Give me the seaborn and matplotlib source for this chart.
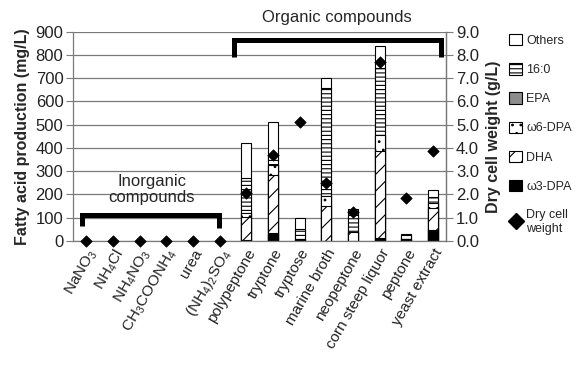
import numpy as np
import matplotlib
matplotlib.use("Agg")
import matplotlib.pyplot as plt
import seaborn as sns
from matplotlib.patches import Patch
from matplotlib.lines import Line2D

sns.set_style("white")
plt.rcParams["font.family"] = ["Liberation Sans", "DejaVu Sans"]
plt.rcParams["mathtext.default"] = "regular"
plt.rcParams["hatch.linewidth"] = 0.8

categories = [r"NaNO$_3$", r"NH$_4$Cl", r"NH$_4$NO$_3$", r"CH$_3$COONH$_4$", "urea",
              r"(NH$_4$)$_2$SO$_4$", "polypeptone", "tryptone", "tryptose",
              "marine broth", "neopeptone", "corn steep liquor", "peptone",
              "yeast extract"]

nan = np.nan
# fatty acid composition (mg/L); inorganic nitrogen sources gave no growth
w3_dpa = [nan, nan, nan, nan, nan, nan, 3, 35, 0, 0, 0, 12, 2, 45]
dha    = [nan, nan, nan, nan, nan, nan, 101, 249, 5, 150, 40, 373, 5, 95]
w6_dpa = [nan, nan, nan, nan, nan, nan, 16, 43, 2, 42, 0, 70, 0, 22]
epa    = [nan, nan, nan, nan, nan, nan, 0, 0, 0, 0, 0, 0, 0, 0]
c16_0  = [nan, nan, nan, nan, nan, nan, 151, 43, 45, 466, 70, 290, 18, 25]
others = [nan, nan, nan, nan, nan, nan, 149, 140, 48, 43, 27, 93, 5, 33]

# dry cell weight (g/L)
dcw = [0, 0, 0, 0, 0, 0, 2.05, 3.7, 5.1, 2.49, 1.26, 7.69, 1.84, 3.89]

layers = [
    ("ω3-DPA", w3_dpa, "black", None),
    ("DHA", dha, "white", "//"),
    ("ω6-DPA", w6_dpa, "white", ".."),
    ("EPA", epa, "#8c8c8c", None),
    ("16:0", c16_0, "white", "----"),
    ("Others", others, "white", None),
]

fig = plt.figure(figsize=(5.85, 3.65), dpi=100)
ax = fig.add_axes([0.125, 0.34, 0.638, 0.573])
x = np.arange(len(categories))

# stacked bars: draw cumulative totals from the top layer down
cum = np.cumsum(np.array([np.array(v, dtype=float) for _, v, _, _ in layers]), axis=0)
for i in range(len(layers) - 1, -1, -1):
    name, vals, fc, hatch = layers[i]
    sns.barplot(x=x, y=cum[i], ax=ax, color=fc, saturation=1, width=0.38,
                edgecolor="black", linewidth=0.8, hatch=hatch, errorbar=None,
                order=list(x), zorder=2)

ax.set_xlim(-0.5, len(categories) - 0.5)
ax.set_ylim(0, 900)
ax.set_yticks(np.arange(0, 901, 100))
ax.yaxis.grid(True, color="#7a7a7a", linewidth=0.9, zorder=0)
ax.set_axisbelow(True)
ax.set_xticks(x)
ax.set_xticklabels(categories, rotation=60, ha="right", rotation_mode="anchor",
                   fontsize=11, color="#222222")
ax.tick_params(axis="x", length=0, pad=4)
ax.tick_params(axis="y", length=5, width=0.8, color="#7a7a7a", labelsize=12, pad=2,
               left=True, labelcolor="#222222")
ax.set_ylabel("Fatty acid production (mg/L)", fontsize=11.5, fontweight="bold",
              labelpad=4)
for s in ["left", "bottom", "right"]:
    ax.spines[s].set_color("#7a7a7a")
    ax.spines[s].set_linewidth(0.9)
ax.spines["top"].set_visible(False)

# dry cell weight on the secondary axis
ax2 = ax.twinx()
sns.scatterplot(x=x, y=dcw, ax=ax2, marker="D", color="black", s=34,
                edgecolor="black", linewidth=0.5, clip_on=False, zorder=5)
ax2.set_ylim(0, 9)
ax2.set_yticks(np.arange(0, 9.01, 1))
ax2.set_yticklabels([f"{v:.1f}" for v in np.arange(0, 9.01, 1)])
ax2.tick_params(axis="y", length=5, width=0.8, color="#7a7a7a", labelsize=12, pad=2,
                right=True, labelcolor="#222222")
ax2.set_ylabel("Dry cell weight (g/L)", fontsize=11.5, fontweight="bold", labelpad=5)
for s in ["top", "left", "bottom"]:
    ax2.spines[s].set_visible(False)
ax2.spines["right"].set_color("#7a7a7a")
ax2.spines["right"].set_linewidth(0.9)

# group brackets
ax.plot([-0.17, -0.17, 4.96, 4.96], [62, 112, 112, 57], color="black", lw=3.6,
        solid_joinstyle="miter", solid_capstyle="butt", clip_on=False, zorder=6)
ax.text(2.45, 220, "Inorganic\ncompounds", ha="center", va="center", fontsize=12,
        linespacing=1.1, zorder=6)
ax.plot([5.53, 5.53, 13.3, 13.3], [790, 866, 866, 790], color="black", lw=3.6,
        solid_joinstyle="miter", solid_capstyle="butt", clip_on=False, zorder=6)
ax.text(9.4, 962, "Organic compounds", ha="center", va="center", fontsize=12,
        clip_on=False)

# legend
handles = [Patch(facecolor=fc, edgecolor="black", hatch=h, linewidth=0.8)
           for _, _, fc, h in layers][::-1]
labels = [n for n, _, _, _ in layers][::-1]
handles.append(Line2D([], [], marker="D", color="black", linestyle="none",
                      markersize=8.5))
labels.append("Dry cell\nweight")
fig.legend(handles, labels, loc="upper left", bbox_to_anchor=(0.862, 0.92),
           frameon=False, fontsize=9, handlelength=1.0, handleheight=1.0,
           handletextpad=0.35, labelspacing=1.3, borderaxespad=0)

fig.savefig("out.png", dpi=100)
